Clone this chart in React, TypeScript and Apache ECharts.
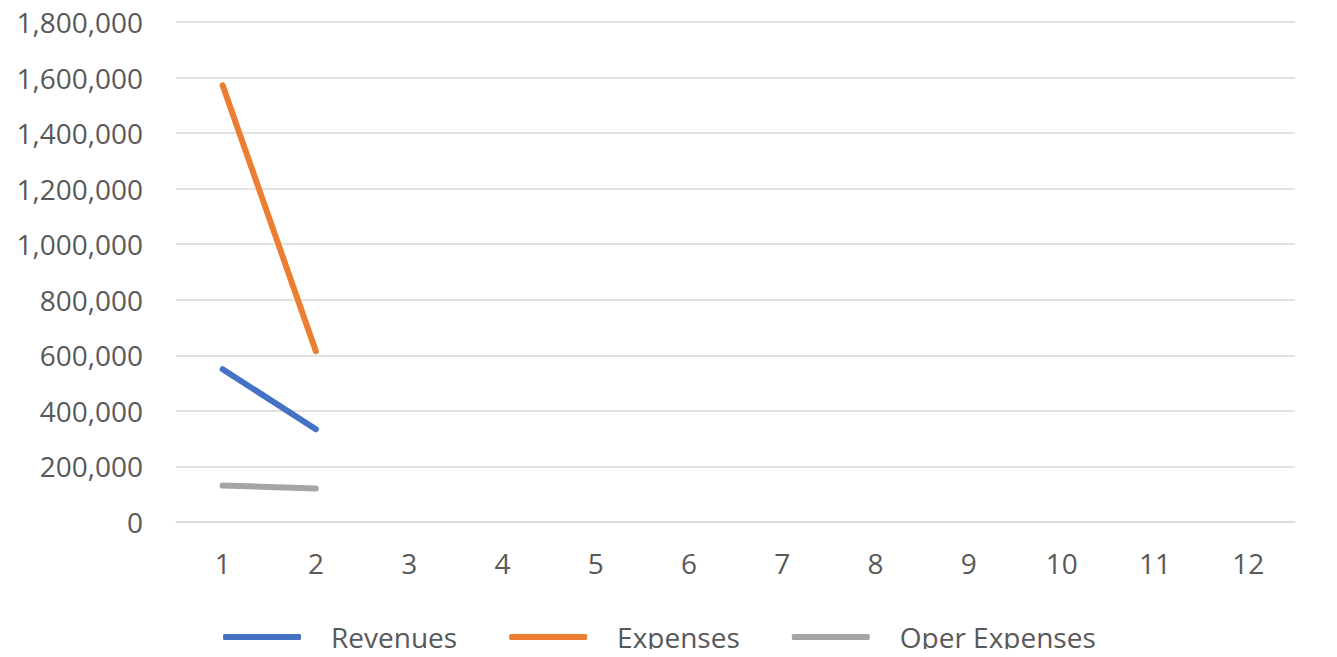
import React, { useEffect, useRef } from "react";
import * as echarts from "echarts";

const categories = ["1", "2", "3", "4", "5", "6", "7", "8", "9", "10", "11", "12"];
const revenues = [550000, 334000];
const expenses = [1572000, 615000];
const operExpenses = [131000, 121000];

const FONT = "Open Sans";
const TEXT = "#595959";
const FS = 28;

export default function App() {
  const ref = useRef<HTMLDivElement>(null);
  useEffect(() => {
    const chart = echarts.init(ref.current!, null, { renderer: "svg" });
    chart.setOption({
      animation: false,
      grid: { left: 176, right: 42, top: 22, bottom: 135, containLabel: false },
      xAxis: {
        type: "category",
        data: categories,
        boundaryGap: true,
        axisLine: { show: true, lineStyle: { color: "#d9d9d9", width: 1.5 } },
        axisTick: { show: false },
        axisLabel: { color: TEXT, fontSize: FS, fontFamily: FONT, margin: 27 },
      },
      yAxis: {
        type: "value",
        min: 0,
        max: 1800000,
        interval: 200000,
        axisLine: { show: false },
        axisTick: { show: false },
        splitLine: { lineStyle: { color: "#d9d9d9", width: 1.5 } },
        axisLabel: {
          color: TEXT,
          fontSize: FS,
          fontFamily: FONT,
          margin: 33,
          formatter: (v: number) => v.toLocaleString("en-US"),
        },
      },
      legend: {
        top: 618,
        left: 218,
        itemWidth: 78,
        itemHeight: 6,
        itemGap: 52,
        icon: "roundRect",
        textStyle: { color: TEXT, fontSize: FS, fontFamily: FONT, padding: [0, 0, 0, 25] },
        data: ["Revenues", "Expenses", "Oper Expenses"],
      },
      series: [
        {
          name: "Revenues",
          type: "line",
          data: revenues,
          symbol: "none",
          color: "#4472C4",
          lineStyle: { width: 6, cap: "round", color: "#4472C4" },
        },
        {
          name: "Expenses",
          type: "line",
          data: expenses,
          symbol: "none",
          color: "#ED7D31",
          lineStyle: { width: 6, cap: "round", color: "#ED7D31" },
        },
        {
          name: "Oper Expenses",
          type: "line",
          data: operExpenses,
          symbol: "none",
          color: "#A5A5A5",
          lineStyle: { width: 6, cap: "round", color: "#A5A5A5" },
        },
      ],
    });
    return () => chart.dispose();
  }, []);
  return <div ref={ref} style={{ width: 1337, height: 657, margin: -8 }} />;
}
